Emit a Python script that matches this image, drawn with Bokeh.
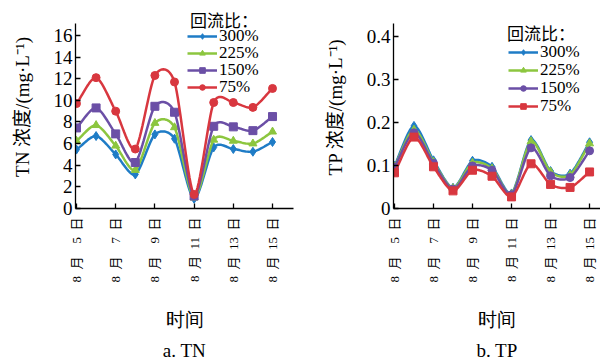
import math
import numpy as np
from bokeh.plotting import figure
from bokeh.layouts import row
from bokeh.models import FixedTicker, Legend, LegendItem, LinearAxis, Range1d
from bokeh.embed import file_html
from bokeh.resources import INLINE

# ---- data ----
days = [5, 6, 7, 8, 9, 10, 11, 12, 13, 14, 15]
tick_days = [5, 7, 9, 11, 13, 15]
series_names = ["300%", "225%", "150%", "75%"]
legend_title = "回流比："
x_title = "时间"

tn_300 = [5.45, 6.7, 5.0, 3.15, 6.85, 6.45, 0.9, 5.65, 5.5, 5.25, 6.15]
tn_225 = [6.25, 7.7, 5.8, 3.55, 7.9, 7.5, 1.0, 6.35, 6.25, 6.0, 7.1]
tn_150 = [7.45, 9.3, 6.9, 4.25, 9.45, 8.9, 1.15, 7.6, 7.55, 7.2, 8.5]
tn_75 = [9.7, 12.1, 9.0, 5.5, 12.3, 11.7, 1.3, 9.8, 9.8, 9.35, 11.1]

tp_300 = [0.099, 0.192, 0.112, 0.048, 0.111, 0.097, 0.035, 0.159, 0.087, 0.081, 0.154]
tp_225 = [0.097, 0.183, 0.108, 0.047, 0.106, 0.093, 0.033, 0.156, 0.085, 0.078, 0.151]
tp_150 = [0.096, 0.176, 0.105, 0.045, 0.099, 0.089, 0.032, 0.141, 0.076, 0.072, 0.134]
tp_75 = [0.083, 0.166, 0.097, 0.041, 0.089, 0.075, 0.027, 0.104, 0.056, 0.049, 0.085]

colors = ["#1f7cc6", "#8cc63f", "#6b4fa6", "#d8373f"]
tn_markers = ["diamond", "triangle", "square", "circle"]
tp_markers = ["diamond", "triangle", "circle", "square"]

FONT = "'Liberation Serif', 'Noto Sans CJK SC'"
LATIN = "'Liberation Serif'"

FRAME_BOTTOM = 208  # page y of the x axis


def tick_label(d):
    num = str(d) if d >= 10 else "\u2007" + str(d)
    return "8\u2002月\u2002" + num + "\u2002日"


def smooth(x, y, n=16, s=0.8):
    """Cardinal-spline rendering of the line through the data points."""
    x = np.asarray(x, float)
    y = np.asarray(y, float)
    m = len(x)
    def tangents(a):
        tg = np.zeros(m)
        tg[1:-1] = s * (a[2:] - a[:-2]) / 2
        tg[0] = s * (a[1] - a[0])
        tg[-1] = s * (a[-1] - a[-2])
        return tg
    mx, my = tangents(x), tangents(y)
    t = np.linspace(0, 1, n, endpoint=False)
    h00 = 2 * t**3 - 3 * t**2 + 1
    h10 = t**3 - 2 * t**2 + t
    h01 = -2 * t**3 + 3 * t**2
    h11 = t**3 - t**2
    xs, ys = [], []
    for i in range(m - 1):
        xs.extend(h00 * x[i] + h10 * mx[i] + h01 * x[i + 1] + h11 * mx[i + 1])
        ys.extend(h00 * y[i] + h10 * my[i] + h01 * y[i + 1] + h11 * my[i + 1])
    xs.append(x[-1])
    ys.append(y[-1])
    return xs, ys


def legend_box(items, loc, font, glyph_width=30, label_standoff=2):
    return Legend(items=items, location=loc, orientation="vertical",
                  glyph_width=glyph_width, glyph_height=14, label_height=14,
                  label_standoff=label_standoff, spacing=0, padding=0, margin=0,
                  border_line_alpha=0, background_fill_alpha=0,
                  label_text_font=font, label_text_font_size="17px",
                  label_text_color="black")


def label_axis(text, x0, centre, standoff, font):
    """An axis with no line/ticks, used only to carry a centred caption."""
    ax = LinearAxis(ticker=FixedTicker(ticks=[]), axis_label=text,
                    bounds=(x0, 2 * centre - x0))
    ax.axis_line_color = None
    ax.major_tick_line_color = None
    ax.minor_tick_line_color = None
    ax.major_tick_in = 0
    ax.major_tick_out = 0
    ax.major_label_standoff = 0
    ax.major_label_text_font_size = "0px"
    ax.axis_label_standoff = standoff
    ax.axis_label_text_font = font
    ax.axis_label_text_font_size = "19px"
    ax.axis_label_text_font_style = "normal"
    ax.axis_label_text_color = "black"
    return ax


def make_plot(width, border_left, border_right, xr, ybounds, ytop, yticks, ylabel,
              series, markers, leg_x, title_x, title_y, row_ys, sub_title,
              xt_centre, sub_centre):
    p = figure(width=width, height=364, x_range=Range1d(*xr),
               y_range=Range1d(ybounds[0], ytop),
               output_backend="svg", toolbar_location=None,
               min_border_left=border_left, min_border_right=border_right,
               min_border_top=5, min_border_bottom=156)
    p.grid.visible = False
    p.outline_line_color = None
    p.background_fill_color = None
    p.border_fill_color = None

    p.add_layout(legend_box([LegendItem(label=legend_title, renderers=[])],
                            (title_x, FRAME_BOTTOM - title_y - 12), FONT,
                            glyph_width=0, label_standoff=0), "center")

    for name, vals, col, mk, ry in zip(series_names, series, colors, markers, row_ys):
        sx, sy = smooth(days, vals)
        lr = p.line(sx, sy, line_color=col, line_width=2.5)
        size = 8 if mk != "diamond" else 9
        mr = p.scatter(days, vals, marker=mk, size=size, fill_color=col, line_color=col)
        p.add_layout(legend_box([LegendItem(label=name, renderers=[lr, mr])],
                                (leg_x, FRAME_BOTTOM - ry - 9.5), LATIN), "center")

    for ax in (p.xaxis[0], p.yaxis[0]):
        ax.axis_line_color = "black"
        ax.axis_line_width = 1.3
        ax.major_tick_line_color = "black"
        ax.major_tick_line_width = 1.3
        ax.major_tick_in = 5
        ax.major_tick_out = 0
        ax.minor_tick_line_color = None
        ax.major_label_text_font = FONT
        ax.major_label_text_color = "black"
        ax.axis_label_text_font = FONT
        ax.axis_label_text_font_style = "normal"
        ax.axis_label_text_color = "black"

    xa = p.xaxis[0]
    xa.ticker = FixedTicker(ticks=tick_days)
    xa.major_label_overrides = {d: tick_label(d) for d in tick_days}
    xa.major_label_orientation = math.pi / 2
    xa.major_label_text_font_size = "13px"
    xa.major_label_standoff = 9

    p.add_layout(label_axis(x_title, xr[0], xt_centre, 23, LATIN), "below")
    p.add_layout(label_axis(sub_title, xr[0], sub_centre, 7, LATIN), "below")

    ya = p.yaxis[0]
    ya.bounds = ybounds
    ya.ticker = FixedTicker(ticks=yticks)
    ya.major_label_text_font_size = "19px"
    ya.major_label_standoff = 3
    ya.axis_label = ylabel
    ya.axis_label_text_font_size = "19px"
    ya.axis_label_standoff = 18
    return p


p1 = make_plot(300, 75, 7, (4.95, 16.07), (0, 17.1), 18.77,
               [0, 2, 4, 6, 8, 10, 12, 14, 16],
               "TN 浓度/(mg·L⁻¹)", [tn_300, tn_225, tn_150, tn_75], tn_markers,
               112, 115, 20, [36, 53, 70, 87], "a. TN", 10.43, 10.46)
p2 = make_plot(300, 93, 0, (4.95, 15.56), (0, 0.43), 0.472,
               [0, 0.1, 0.2, 0.3, 0.4],
               "TP 浓度/(mg·L⁻¹)", [tp_300, tp_225, tp_150, tp_75], tp_markers,
               115, 114, 33, [52, 70, 88, 106], "b. TP", 9.57, 9.77)
p2.yaxis[0].major_label_overrides = {0: "0"}

layout = row(p1, p2)
open("out.html", "w").write(file_html(layout, INLINE))
